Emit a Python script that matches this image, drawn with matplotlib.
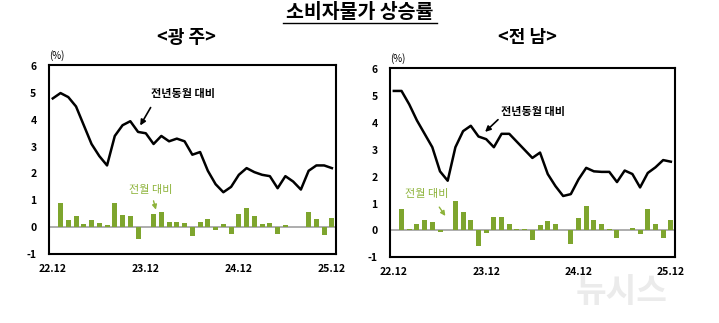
import matplotlib.pyplot as plt
import numpy as np

plt.rcParams['font.family'] = ['Noto Sans CJK KR', 'DejaVu Sans']

# 22.12 ~ 25.12, monthly
months = [f'{y}.{m:02d}' for y in (22, 23, 24, 25) for m in range(1, 13)][11:]
tick_labels = ['22.12', '23.12', '24.12', '25.12']

# 광주: 전년동월 대비 / 전월 대비 (%)
gj_yoy = [4.8, 5.0, 4.85, 4.5, 3.8, 3.1, 2.65, 2.3, 3.4, 3.8, 3.95, 3.55, 3.5,
          3.1, 3.4, 3.2, 3.3, 3.2, 2.7, 2.8, 2.1, 1.6, 1.3, 1.5, 1.95, 2.2,
          2.05, 1.95, 1.9, 1.45, 1.9, 1.7, 1.4, 2.1, 2.3, 2.3, 2.2]
gj_mom = [0.9, 0.25, 0.4, 0.1, 0.25, 0.15, 0.08, 0.9, 0.45, 0.4, -0.45, 0.0,
          0.5, 0.57, 0.2, 0.2, 0.14, -0.35, 0.2, 0.3, -0.1, 0.1, -0.25, 0.47,
          0.7, 0.42, 0.11, 0.15, -0.25, 0.06, 0.02, 0.02, 0.55, 0.3, -0.3, 0.35]

# 전남
jn_yoy = [5.2, 5.2, 4.7, 4.1, 3.6, 3.1, 2.2, 1.85, 3.1, 3.7, 3.9, 3.5, 3.4,
          3.1, 3.6, 3.6, 3.3, 3.0, 2.7, 2.9, 2.1, 1.65, 1.28, 1.35, 1.9, 2.33,
          2.2, 2.18, 2.18, 1.8, 2.23, 2.1, 1.6, 2.14, 2.35, 2.62, 2.56]
jn_mom = [0.8, 0.05, 0.25, 0.4, 0.3, -0.07, 0.0, 1.1, 0.7, 0.4, -0.6, -0.1,
          0.5, 0.5, 0.25, 0.05, 0.05, -0.35, 0.2, 0.35, 0.25, 0.0, -0.5, 0.45,
          0.9, 0.4, 0.25, 0.06, -0.3, 0.02, 0.07, -0.15, 0.8, 0.25, -0.3, 0.4]

BAR = '#7ea52e'
LABEL_GREEN = '#8db33a'

fig = plt.figure(figsize=(7.19, 3.23), dpi=100)

fig.text(0.5, 0.962, '소비자물가 상승률', ha='center', va='center',
         fontsize=14, fontweight='bold')
fig.add_artist(plt.Line2D([0.394, 0.608], [0.928, 0.928], color='black', lw=1.0))


def draw_panel(rect, title, title_x, yoy, mom, yoy_txt, yoy_arrow, mom_txt, mom_arrow):
    ax = fig.add_axes(rect)
    x = np.arange(len(months))
    ax.axhline(0, color='#a0a0a0', lw=1.2, zorder=1)
    ax.bar(x[1:], mom, width=0.65, color=BAR, zorder=2)
    ax.plot(x, yoy, color='black', lw=1.8, zorder=3)

    ax.set_xlim(-0.5, len(months) - 0.5)
    ax.set_ylim(-1, 6.05)
    ax.set_yticks(range(-1, 7))
    ax.set_yticklabels([str(v) for v in range(-1, 7)], fontsize=7.5, fontweight='bold')
    ticks = [months.index(t) for t in tick_labels]
    ax.set_xticks(ticks)
    ax.set_xticklabels(tick_labels, fontsize=7.5, fontweight='bold')
    ax.tick_params(length=0, pad=7)
    ax.tick_params(axis='y', pad=9)
    for s in ax.spines.values():
        s.set_linewidth(1.5)

    ax.text(0.0, 1.02, '(%)', transform=ax.transAxes, fontsize=7,
            ha='left', va='bottom')
    fig.text(title_x, 0.885, title, ha='center', va='center',
             fontsize=13, fontweight='bold')

    ax.text(*yoy_txt, '전년동월 대비', ha='center', va='center', fontsize=8,
            fontweight='bold', color='black', zorder=4)
    ax.annotate('', xy=yoy_arrow[1], xytext=yoy_arrow[0],
                arrowprops=dict(arrowstyle='-|>', color='black', lw=1.2,
                                mutation_scale=8))
    ax.text(*mom_txt, '전월 대비', ha='center', va='center', fontsize=8,
            color=LABEL_GREEN)
    ax.annotate('', xy=mom_arrow[1], xytext=mom_arrow[0],
                arrowprops=dict(arrowstyle='-|>', color=LABEL_GREEN, lw=1.0,
                                mutation_scale=7))
    return ax


draw_panel([0.068, 0.214, 0.399, 0.585], '<광 주>', 0.259, gj_yoy, gj_mom,
           yoy_txt=(16.8, 5.0), yoy_arrow=((12.8, 4.55), (11.1, 3.7)),
           mom_txt=(12.6, 1.4), mom_arrow=((12.9, 1.08), (13.4, 0.55)))
draw_panel([0.5424, 0.204, 0.396, 0.585], '<전 남>', 0.734, jn_yoy, jn_mom,
           yoy_txt=(18.1, 4.45), yoy_arrow=((13.8, 4.2), (11.6, 3.6)),
           mom_txt=(4.3, 1.35), mom_arrow=((5.7, 0.95), (6.9, 0.45)))

fig.text(0.865, 0.095, '뉴시스', ha='center', va='center', fontsize=24,
         fontweight='bold', color='#ebebeb', zorder=0)

fig.savefig('out.png', dpi=100)
